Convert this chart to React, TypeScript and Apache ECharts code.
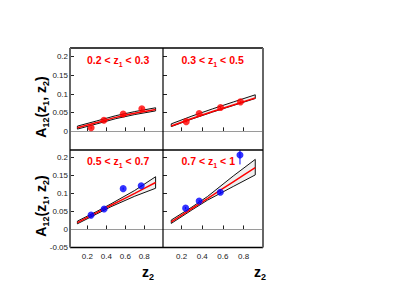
import React, { useEffect, useRef } from "react";
import * as echarts from "echarts";

// ---- tick values ----
const xTicks = [0.2, 0.4, 0.6, 0.8];
const yTicksTop = [0, 0.05, 0.1, 0.15, 0.2];
const yTicksBottom = [-0.05, 0, 0.05, 0.1, 0.15, 0.2];

// ---- panel labels ----
const panelLabels = [
  "0.2 < z{s|1} < 0.3",
  "0.3 < z{s|1} < 0.5",
  "0.5 < z{s|1} < 0.7",
  "0.7 < z{s|1} < 1",
];

// ---- model bands (lower, upper, central fit) ----
const tlBandX = [0.095, 0.3, 0.5, 0.7, 0.92];
const tlLow = [0.006, 0.02, 0.034, 0.045, 0.0548];
const tlHigh = [0.014, 0.028, 0.042, 0.053, 0.0632];
const tlFit = [0.0095, 0.0235, 0.0375, 0.0485, 0.0585];

const trBandX = [0.1, 0.3, 0.5, 0.7, 0.913];
const trLow = [0.0127, 0.033, 0.0517, 0.0693, 0.088];
const trHigh = [0.0201, 0.041, 0.0603, 0.0787, 0.098];
const trFit = [0.0142, 0.0345, 0.0532, 0.0708, 0.0895];

const blBandX = [0.095, 0.3, 0.45, 0.7, 0.92];
const blLow = [0.0156, 0.043, 0.063, 0.092, 0.114];
const blHigh = [0.023, 0.05, 0.071, 0.108, 0.146];
const blFit = [0.019, 0.0467, 0.067, 0.1, 0.13];

const brBandX = [0.1, 0.3, 0.45, 0.7, 0.913];
const brLow = [0.0167, 0.054, 0.081, 0.119, 0.151];
const brHigh = [0.026, 0.062, 0.091, 0.148, 0.194];
const brFit = [0.021, 0.058, 0.0856, 0.1317, 0.171];

// ---- data points ----
const tlX = [0.24, 0.375, 0.578, 0.775];
const tlY = [0.0095, 0.0296, 0.0466, 0.0605];
const tlErr = [0.003, 0.002, 0.002, 0.004];

const trX = [0.245, 0.37, 0.577, 0.77];
const trY = [0.026, 0.0476, 0.064, 0.079];
const trErr = [0.002, 0.002, 0.002, 0.002];

const blX = [0.239, 0.377, 0.578, 0.768];
const blY = [0.0397, 0.0564, 0.113, 0.121];
const blErr = [0.003, 0.003, 0.003, 0.003];

const brX = [0.239, 0.37, 0.575, 0.765];
const brY = [0.059, 0.0786, 0.103, 0.206];
const brErr = [0.003, 0.003, 0.004, 0.026];

const FONT = "'Liberation Sans', Arial, Helvetica, sans-serif";

export default function App() {
  const ref = useRef<HTMLDivElement>(null);

  useEffect(() => {
    const chart = echarts.init(ref.current!, null, { renderer: "svg" });

    const panels = [
      {
        grid: { left: 70, top: 48, width: 93, height: 102 },
        xr: [0.017, 0.998], yr: [-0.05, 0.2234],
        bx: tlBandX, lo: tlLow, hi: tlHigh, fit: tlFit,
        px: tlX, py: tlY, pe: tlErr, color: "#ff0000",
        yLab: true, xLab: false, yTicks: yTicksTop,
      },
      {
        grid: { left: 163, top: 48, width: 100, height: 102 },
        xr: [0.02, 0.988], yr: [-0.05, 0.2234],
        bx: trBandX, lo: trLow, hi: trHigh, fit: trFit,
        px: trX, py: trY, pe: trErr, color: "#ff0000",
        yLab: false, xLab: false, yTicks: yTicksTop,
      },
      {
        grid: { left: 70, top: 150, width: 93, height: 97.5 },
        xr: [0.017, 0.998], yr: [-0.05, 0.22],
        bx: blBandX, lo: blLow, hi: blHigh, fit: blFit,
        px: blX, py: blY, pe: blErr, color: "#0000ff",
        yLab: true, xLab: true, yTicks: yTicksBottom,
      },
      {
        grid: { left: 163, top: 150, width: 100, height: 97.5 },
        xr: [0.02, 0.988], yr: [-0.05, 0.22],
        bx: brBandX, lo: brLow, hi: brHigh, fit: brFit,
        px: brX, py: brY, pe: brErr, color: "#0000ff",
        yLab: false, xLab: true, yTicks: yTicksBottom,
      },
    ];

    const grid = panels.map((p) => ({ ...p.grid, containLabel: false }));
    const xAxis = panels.map((p, i) => ({
      gridIndex: i,
      type: "value",
      min: p.xr[0],
      max: p.xr[1],
      axisLine: { show: false },
      splitLine: { show: false },
      axisTick: {
        show: true,
        inside: true,
        length: 4,
        customValues: xTicks,
        lineStyle: { color: "#222", width: 1 },
      },
      axisLabel: {
        show: p.xLab,
        customValues: xTicks,
        fontSize: 8,
        color: "#222",
        margin: 5,
        fontFamily: FONT,
      },
    }));
    const yAxis = panels.map((p, i) => ({
      gridIndex: i,
      type: "value",
      min: p.yr[0],
      max: p.yr[1],
      axisLine: { show: false },
      splitLine: { show: false },
      axisTick: {
        show: true,
        inside: true,
        length: 4,
        customValues: p.yTicks,
        lineStyle: { color: "#222", width: 1 },
      },
      axisLabel: {
        show: p.yLab,
        customValues: p.yTicks,
        fontSize: 8,
        color: "#222",
        margin: 2,
        fontFamily: FONT,
      },
    }));

    const series: any[] = [];
    panels.forEach((p, i) => {
      series.push({
        type: "custom",
        xAxisIndex: i,
        yAxisIndex: i,
        z: 2,
        silent: true,
        data: p.bx.map((x, k) => [x, p.lo[k], p.hi[k]]),
        renderItem: (params: any, api: any) => {
          if (params.dataIndex !== 0) return null;
          const up = p.bx.map((x, k) => api.coord([x, p.hi[k]]));
          const dn = p.bx.map((x, k) => api.coord([x, p.lo[k]])).reverse();
          return {
            type: "polygon",
            shape: { points: [...up, ...dn], smooth: 0 },
            style: { fill: "#efefef", stroke: "#111", lineWidth: 1 },
          };
        },
      });
      series.push({
        type: "line",
        xAxisIndex: i,
        yAxisIndex: i,
        z: 3,
        smooth: 0.3,
        symbol: "none",
        silent: true,
        data: p.bx.map((x, k) => [x, p.fit[k]]),
        lineStyle: { color: "#ff0000", width: 1.5 },
        markLine: {
          silent: true,
          symbol: "none",
          label: { show: false },
          lineStyle: { color: "#9a9a9a", type: "solid", width: 1 },
          data: [{ yAxis: 0 }],
        },
      });
      series.push({
        type: "custom",
        xAxisIndex: i,
        yAxisIndex: i,
        z: 4,
        clip: true,
        silent: true,
        data: p.px.map((x, k) => [x, p.py[k], p.pe[k]]),
        renderItem: (params: any, api: any) => {
          const x = api.value(0);
          const y = api.value(1);
          const e = api.value(2);
          const a = api.coord([x, y - e]);
          const b = api.coord([x, y + e]);
          return {
            type: "line",
            shape: { x1: a[0], y1: a[1], x2: b[0], y2: b[1] },
            style: { stroke: p.color, lineWidth: 1 },
          };
        },
      });
      series.push({
        type: "scatter",
        xAxisIndex: i,
        yAxisIndex: i,
        z: 5,
        clip: true,
        symbol: "circle",
        symbolSize: 7,
        silent: true,
        itemStyle: { color: p.color },
        data: p.px.map((x, k) => [x, p.py[k]]),
      });
    });

    const labelPos = [
      [87, 60],
      [181.5, 60],
      [87, 161],
      [181.5, 161],
    ];
    const subRich = {
      s: { fontSize: 7, fontWeight: "bold", fontFamily: FONT, fill: "#ff0000", verticalAlign: "bottom", lineHeight: 8 },
    };
    const graphic: any[] = [];
    panelLabels.forEach((t, i) => {
      graphic.push({
        type: "text",
        x: labelPos[i][0],
        y: labelPos[i][1],
        z: 10,
        style: {
          text: t,
          fill: "#ff0000",
          font: `bold 10.5px ${FONT}`,
          lineHeight: 15,
          textAlign: "left",
          textVerticalAlign: "middle",
          rich: subRich,
        },
      });
    });

    const titleRich = {
      s: { fontSize: 9, fontWeight: "bold", fontFamily: FONT, fill: "#000", verticalAlign: "bottom", lineHeight: 10 },
    };
    [107, 206].forEach((cy) => {
      graphic.push({
        type: "text",
        x: 41,
        y: cy,
        rotation: Math.PI / 2,
        z: 10,
        style: {
          text: "A{s|12}(z{s|1}, z{s|2})",
          fill: "#000",
          font: `bold 14px ${FONT}`,
          lineHeight: 19,
          textAlign: "center",
          textVerticalAlign: "middle",
          rich: titleRich,
        },
      });
    });
    [148, 260].forEach((cx) => {
      graphic.push({
        type: "text",
        x: cx,
        y: 272,
        z: 10,
        style: {
          text: "z{s|2}",
          fill: "#000",
          font: `bold 14px ${FONT}`,
          lineHeight: 19,
          textAlign: "center",
          textVerticalAlign: "middle",
          rich: titleRich,
        },
      });
    });

    // frame
    const frame = [
      { x1: 70, y1: 48, x2: 263, y2: 48, c: "#000", w: 1.5 },
      { x1: 70, y1: 247.5, x2: 263, y2: 247.5, c: "#000", w: 1.5 },
      { x1: 70, y1: 48, x2: 70, y2: 247.5, c: "#666", w: 2 },
      { x1: 263, y1: 48, x2: 263, y2: 247.5, c: "#666", w: 2 },
      { x1: 163, y1: 48, x2: 163, y2: 247.5, c: "#000", w: 1.2 },
      { x1: 70, y1: 150, x2: 263, y2: 150, c: "#000", w: 1.5 },
    ];
    frame.forEach((f) => {
      graphic.push({
        type: "line",
        z: 9,
        silent: true,
        shape: { x1: f.x1, y1: f.y1, x2: f.x2, y2: f.y2 },
        style: { stroke: f.c, lineWidth: f.w },
      });
    });

    chart.setOption({
      animation: false,
      backgroundColor: "#ffffff",
      textStyle: { fontFamily: FONT },
      grid,
      xAxis,
      yAxis,
      series,
      graphic,
    });

    return () => chart.dispose();
  }, []);

  return (
    <div
      ref={ref}
      style={{ position: "fixed", left: 0, top: 0, width: 399, height: 308 }}
    />
  );
}
